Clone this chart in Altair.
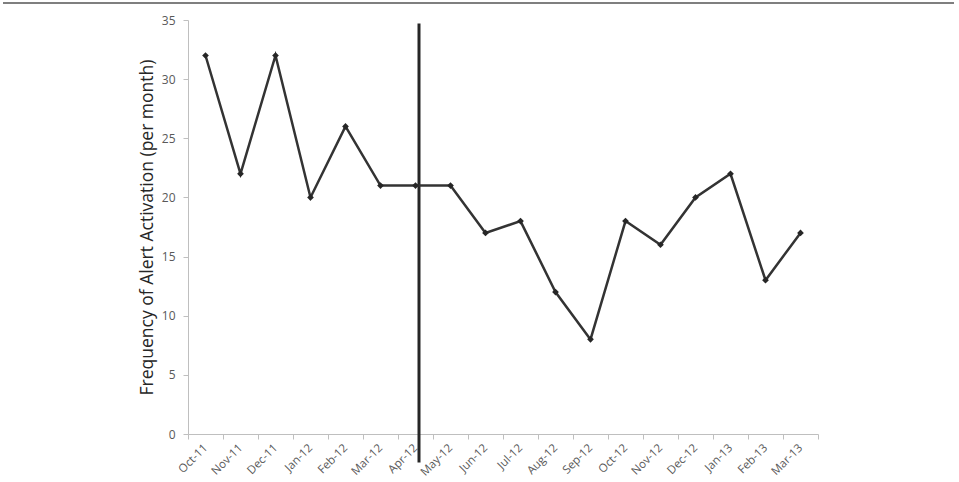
import altair as alt
import pandas as pd

months = ["Oct-11", "Nov-11", "Dec-11", "Jan-12", "Feb-12", "Mar-12", "Apr-12",
          "May-12", "Jun-12", "Jul-12", "Aug-12", "Sep-12", "Oct-12", "Nov-12",
          "Dec-12", "Jan-13", "Feb-13", "Mar-13"]
values = [32, 22, 32, 20, 26, 21, 21, 21, 17, 18, 12, 8, 18, 16, 20, 22, 13, 17]
marker_month = "Apr-12"
y_ticks = [0, 5, 10, 15, 20, 25, 30, 35]

df = pd.DataFrame({"month": months, "value": values})

FONT = "Open Sans"
xenc = alt.X("month:N", sort=months, title=None,
             scale=alt.Scale(paddingInner=0, paddingOuter=0),
             axis=alt.Axis(labelAngle=-45, labelAlign="right", labelBaseline="middle",
                           labelFont=FONT, labelFontSize=11.5, labelColor="#595959",
                           labelPadding=7,
                           domainColor="#bfbfbf", tickColor="#bfbfbf", tickSize=5,
                           tickBand="extent", grid=False))
yenc = alt.Y("value:Q", title="Frequency of Alert Activation (per month)",
             scale=alt.Scale(domain=[0, 35], nice=False),
             axis=alt.Axis(values=y_ticks, labelFont=FONT, labelFontSize=12,
                           labelColor="#595959", labelPadding=8,
                           domainColor="#bfbfbf", tickColor="#bfbfbf", tickSize=5,
                           grid=False, titleFont=FONT, titleFontSize=17.5,
                           titleFontWeight="normal", titleColor="#262626",
                           titlePadding=5))

line = alt.Chart(df).mark_line(color="#333333", strokeWidth=2.5).encode(x=xenc, y=yenc)
pts = alt.Chart(df).mark_point(shape="diamond", filled=True, color="#262626",
                               size=45, opacity=1).encode(x=xenc, y=yenc)

vdf = pd.DataFrame({"month": [marker_month], "top": [34.7], "bottom": [-2.4]})
vline = alt.Chart(vdf).mark_rule(color="#262626", strokeWidth=3, xOffset=3.5,
                                 clip=False).encode(
    x=alt.X("month:N", sort=months),
    y=alt.Y("top:Q"), y2="bottom:Q")

border = alt.Chart(vdf).mark_rule(color="#555555", strokeWidth=1.5, clip=False).encode(
    x=alt.value(-185), x2=alt.value(766), y=alt.value(-17))

chart = alt.layer(border, vline, line, pts).properties(
    width=630, height=414,
    autosize=alt.AutoSizeParams(type="none"),
    padding={"left": 188, "top": 20, "right": 141, "bottom": 48},
).configure(background="white").configure_view(stroke=None)

chart.save("out.html", embed_options={"renderer": "svg", "actions": False})
